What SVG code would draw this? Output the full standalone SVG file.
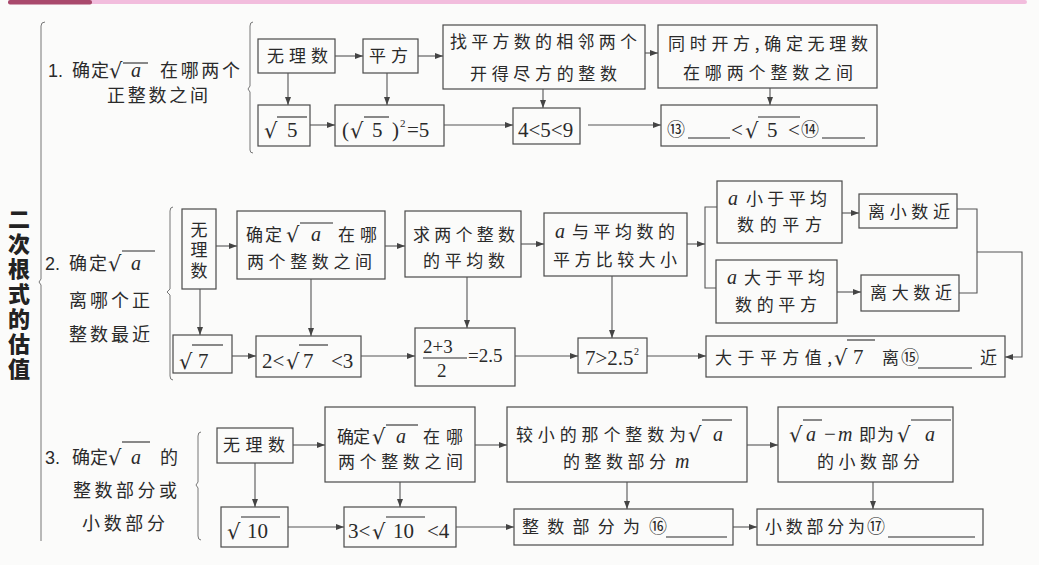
<svg xmlns="http://www.w3.org/2000/svg" width="1039" height="565" viewBox="0 0 1039 565">
<style>
.bg{fill:#fbfbfa}
.b{fill:none;stroke:#4a4a4a;stroke-width:1.2}
.c{fill:none;stroke:#555;stroke-width:1.1}
.a{marker-end:url(#ah)}
.br{fill:none;stroke:#777;stroke-width:1}
.t{font-family:"Noto Sans CJK SC",sans-serif;font-size:17px;fill:#2a2a2a}
.l{font-family:"Noto Sans CJK SC",sans-serif;font-size:18px;fill:#2a2a2a}
.n{font-family:"Liberation Sans",Arial,sans-serif;font-size:18px;fill:#2a2a2a}
.m{font-family:"Liberation Serif","Times New Roman",serif;font-size:21px;fill:#2a2a2a}
.i{font-family:"Liberation Serif","Times New Roman",serif;font-style:italic;font-size:20px;fill:#2a2a2a}
.r{font-family:"DejaVu Serif",serif;font-size:21px;fill:#2a2a2a}
.o{stroke:#2a2a2a;stroke-width:1.1}
.u{stroke:#2a2a2a;stroke-width:1.1}
.ci{font-family:"Noto Sans CJK SC",sans-serif;font-size:18px;fill:#2a2a2a}
.title{font-family:"Noto Sans CJK SC",sans-serif;font-size:22px;font-weight:900;fill:#222;letter-spacing:3px}
</style>
<defs>
<marker id="ah" markerWidth="8" markerHeight="6" refX="8" refY="3" orient="auto" markerUnits="userSpaceOnUse">
<path d="M0,0 L8,3 L0,6 z" fill="#444"/>
</marker>
</defs>
<rect class="bg" x="0" y="0" width="1039" height="565"/>
<g id="topband">
<rect x="90" y="0" width="937" height="4" rx="2" fill="#f2bddd"/>
<rect x="8" y="0" width="84" height="4.5" rx="2" fill="#a9496c"/>
</g>
<g id="title">
<text class="title" x="19" y="208" writing-mode="vertical-rl">二次根式的估值</text>
</g>
<g id="brackets">
<path class="br" d="M45,22 Q41,22 41,26 V279 L39,282 L41,285 V541"/>
<path class="br" d="M253,22 Q250,22 250,26 V86 L248,89 L250,92 V150 Q250,153 253,153"/>
<path class="br" d="M173,207 Q170,207 170,211 V289 L167,292 L170,295 V376 Q170,380 173,380"/>
<path class="br" d="M201,432 Q198,432 198,436 V482 L196,485 L198,488 V536 Q198,540 201,540"/>
</g>

<g id="label1">
<text class="n" x="48" y="77">1.</text>
<text class="l" x="72" y="77" textLength="37" lengthAdjust="spacing">确定</text>
<text class="r" x="109" y="78">√</text>
<line class="o" x1="123" y1="63" x2="148" y2="63"/>
<text class="i" x="131" y="77">a</text>
<text class="l" x="160" y="77" textLength="80" lengthAdjust="spacing">在哪两个</text>
<text class="l" x="107" y="102" textLength="101" lengthAdjust="spacing">正整数之间</text>
</g>
<g id="r1n1"><rect class="b" x="258" y="39" width="77" height="34"/><text class="t" x="267" y="62" textLength="61" lengthAdjust="spacing">无理数</text></g>
<g id="r1n2"><rect class="b" x="363" y="39" width="55" height="34"/><text class="t" x="369" y="62" textLength="39" lengthAdjust="spacing">平方</text></g>
<g id="r1n3"><rect class="b" x="443" y="25" width="202" height="64"/><text class="t" x="450" y="48" textLength="187" lengthAdjust="spacing">找平方数的相邻两个</text><text class="t" x="470" y="80" textLength="147" lengthAdjust="spacing">开得尽方的整数</text></g>
<g id="r1n4"><rect class="b" x="658" y="25" width="219" height="63"/><text class="t" x="668" y="50" textLength="200" lengthAdjust="spacing">同时开方,确定无理数</text><text class="t" x="683" y="79" textLength="170" lengthAdjust="spacing">在哪两个整数之间</text></g>
<g id="r1n5"><rect class="b" x="258" y="105" width="52" height="41"/><text class="r" x="264" y="138">√</text><line class="o" x1="277" y1="117" x2="307" y2="117"/><text class="m" x="287" y="137">5</text></g>
<g id="r1n6"><rect class="b" x="335" y="105" width="109" height="41"/><text class="m" x="342" y="137">(</text><text class="r" x="350" y="138">√</text><line class="o" x1="364" y1="117" x2="389" y2="117"/><text class="m" x="372" y="137">5</text><text class="m" x="392" y="137">)</text><text class="m" x="400" y="127" style="font-size:11px">2</text><text class="m" x="407" y="137">=5</text></g>
<g id="r1n7"><rect class="b" x="513" y="108" width="67" height="36"/><text class="m" x="518" y="137">4&lt;5&lt;9</text></g>
<g id="r1n8"><rect class="b" x="661" y="105" width="216" height="41"/><text class="ci" x="667" y="136">⑬</text><line class="u" x1="688" y1="138" x2="730" y2="138"/><text class="m" x="731" y="137">&lt;</text><text class="r" x="745" y="138">√</text><line class="o" x1="758" y1="117" x2="800" y2="117"/><text class="m" x="767" y="137">5</text><text class="m" x="788" y="137">&lt;</text><text class="ci" x="801" y="136">⑭</text><line class="u" x1="822" y1="138" x2="865" y2="138"/></g>

<g id="label2">
<text class="n" x="45" y="270">2.</text>
<text class="l" x="69" y="270" textLength="38" lengthAdjust="spacing">确定</text>
<text class="r" x="108" y="271">√</text>
<line class="o" x1="122" y1="251" x2="155" y2="251"/>
<text class="i" x="131" y="270">a</text>
<text class="l" x="69" y="307" textLength="81" lengthAdjust="spacing">离哪个正</text>
<text class="l" x="69" y="341" textLength="81" lengthAdjust="spacing">整数最近</text>
</g>
<g id="r2n1"><rect class="b" x="182" y="209" width="34" height="80"/><text class="t" x="199" y="221" writing-mode="vertical-rl" style="letter-spacing:3.5px">无理数</text></g>
<g id="r2n2"><rect class="b" x="237" y="211" width="148" height="68"/><text class="t" x="246" y="241" textLength="36" lengthAdjust="spacing">确定</text><text class="r" x="286" y="242">√</text><line class="o" x1="300" y1="223" x2="333" y2="223"/><text class="i" x="311" y="241">a</text><text class="t" x="338" y="241" textLength="39" lengthAdjust="spacing">在哪</text><text class="t" x="247" y="268" textLength="125" lengthAdjust="spacing">两个整数之间</text></g>
<g id="r2n3"><rect class="b" x="405" y="211" width="116" height="66"/><text class="t" x="413" y="241" textLength="102" lengthAdjust="spacing">求两个整数</text><text class="t" x="423" y="267" textLength="82" lengthAdjust="spacing">的平均数</text></g>
<g id="r2n4"><rect class="b" x="544" y="213" width="143" height="63"/><text class="i" x="555" y="238">a</text><text class="t" x="572" y="238" textLength="103" lengthAdjust="spacing">与平均数的</text><text class="t" x="553" y="266" textLength="124" lengthAdjust="spacing">平方比较大小</text></g>
<g id="r2n5"><rect class="b" x="717" y="181" width="125" height="62"/><text class="i" x="728" y="205">a</text><text class="t" x="746" y="205" textLength="81" lengthAdjust="spacing">小于平均</text><text class="t" x="737" y="231" textLength="85" lengthAdjust="spacing">数的平方</text></g>
<g id="r2n6"><rect class="b" x="859" y="194" width="98" height="34"/><text class="t" x="868" y="218" textLength="82" lengthAdjust="spacing">离小数近</text></g>
<g id="r2n7"><rect class="b" x="716" y="260" width="121" height="63"/><text class="i" x="727" y="284">a</text><text class="t" x="744" y="284" textLength="81" lengthAdjust="spacing">大于平均</text><text class="t" x="735" y="311" textLength="82" lengthAdjust="spacing">数的平方</text></g>
<g id="r2n8"><rect class="b" x="861" y="275" width="98" height="36"/><text class="t" x="870" y="299" textLength="82" lengthAdjust="spacing">离大数近</text></g>
<g id="r2n9"><rect class="b" x="173" y="335" width="59" height="38"/><text class="r" x="179" y="369">√</text><line class="o" x1="192" y1="345" x2="223" y2="345"/><text class="m" x="198" y="368">7</text></g>
<g id="r2n10"><rect class="b" x="256" y="336" width="105" height="41"/><text class="m" x="262" y="368">2&lt;</text><text class="r" x="286" y="369">√</text><line class="o" x1="299" y1="345" x2="328" y2="345"/><text class="m" x="303" y="368">7</text><text class="m" x="331" y="368">&lt;3</text></g>
<g id="r2n11"><rect class="b" x="415" y="328" width="100" height="58"/><text class="m" x="423" y="353" style="font-size:19px">2+3</text><line class="o" x1="423" y1="358" x2="467" y2="358"/><text class="m" x="437" y="377" style="font-size:19px">2</text><text class="m" x="468" y="362" style="font-size:19px">=2.5</text></g>
<g id="r2n12"><rect class="b" x="578" y="338" width="69" height="35"/><text class="m" x="585" y="365">7&gt;2.5</text><text class="m" x="634" y="355" style="font-size:10px">2</text></g>
<g id="r2n13"><rect class="b" x="706" y="336" width="299" height="41"/><text class="t" x="715" y="364" textLength="117" lengthAdjust="spacing">大于平方值,</text><text class="r" x="834" y="365">√</text><line class="o" x1="847" y1="340" x2="875" y2="340"/><text class="m" x="853" y="364">7</text><text class="t" x="882" y="364">离</text><text class="ci" x="901" y="364">⑮</text><line class="u" x1="918" y1="368" x2="972" y2="368"/><text class="t" x="980" y="364">近</text></g>

<g id="label3">
<text class="n" x="45" y="464">3.</text>
<text class="l" x="72" y="464" textLength="36" lengthAdjust="spacing">确定</text>
<text class="r" x="108" y="465">√</text>
<line class="o" x1="122" y1="442" x2="150" y2="442"/>
<text class="i" x="131" y="464">a</text>
<text class="l" x="160" y="464">的</text>
<text class="l" x="73" y="497" textLength="104" lengthAdjust="spacing">整数部分或</text>
<text class="l" x="82" y="530" textLength="83" lengthAdjust="spacing">小数部分</text>
</g>
<g id="r3n1"><rect class="b" x="217" y="428" width="76" height="35"/><text class="t" x="223" y="451" textLength="62" lengthAdjust="spacing">无理数</text></g>
<g id="r3n2"><rect class="b" x="325" y="407" width="150" height="75"/><text class="t" x="337" y="443" textLength="33" lengthAdjust="spacing">确定</text><text class="r" x="372" y="444">√</text><line class="o" x1="386" y1="425" x2="418" y2="425"/><text class="i" x="396" y="443">a</text><text class="t" x="423" y="443" textLength="40" lengthAdjust="spacing">在哪</text><text class="t" x="338" y="468" textLength="125" lengthAdjust="spacing">两个整数之间</text></g>
<g id="r3n3"><rect class="b" x="507" y="407" width="240" height="75"/><text class="t" x="516" y="441" textLength="170" lengthAdjust="spacing">较小的那个整数为</text><text class="r" x="688" y="442">√</text><line class="o" x1="702" y1="420" x2="732" y2="420"/><text class="i" x="713" y="441">a</text><text class="t" x="563" y="468" textLength="103" lengthAdjust="spacing">的整数部分</text><text class="i" x="675" y="468">m</text></g>
<g id="r3n4"><rect class="b" x="778" y="407" width="175" height="75"/><text class="r" x="789" y="442">√</text><line class="o" x1="803" y1="420" x2="822" y2="420"/><text class="i" x="806" y="441">a</text><text class="m" x="824" y="441">−</text><text class="i" x="838" y="441">m</text><text class="t" x="859" y="441" textLength="35" lengthAdjust="spacing">即为</text><text class="r" x="897" y="442">√</text><line class="o" x1="911" y1="420" x2="951" y2="420"/><text class="i" x="925" y="441">a</text><text class="t" x="817" y="468" textLength="103" lengthAdjust="spacing">的小数部分</text></g>
<g id="r3n5"><rect class="b" x="221" y="507" width="67" height="40"/><text class="r" x="227" y="539">√</text><line class="o" x1="241" y1="517" x2="280" y2="517"/><text class="m" x="247" y="538">10</text></g>
<g id="r3n6"><rect class="b" x="344" y="507" width="112" height="40"/><text class="m" x="348" y="538">3&lt;</text><text class="r" x="372" y="539">√</text><line class="o" x1="386" y1="517" x2="425" y2="517"/><text class="m" x="393" y="538">10</text><text class="m" x="427" y="538">&lt;4</text></g>
<g id="r3n7"><rect class="b" x="514" y="509" width="219" height="36"/><text class="t" x="522" y="533" textLength="118" lengthAdjust="spacing">整数部分为</text><text class="ci" x="649" y="533">⑯</text><line class="u" x1="666" y1="537" x2="727" y2="537"/></g>
<g id="r3n8"><rect class="b" x="757" y="509" width="226" height="36"/><text class="t" x="765" y="533" textLength="100" lengthAdjust="spacing">小数部分为</text><text class="ci" x="867" y="533">⑰</text><line class="u" x1="888" y1="537" x2="975" y2="537"/></g>

<g id="connectors">
<path class="c a" d="M335,56 H363"/>
<path class="c a" d="M418,56 H443"/>
<path class="c a" d="M645,53 H658"/>
<path class="c a" d="M288,73 V105"/>
<path class="c a" d="M387,73 V105"/>
<path class="c a" d="M543,89 V108"/>
<path class="c a" d="M770,88 V105"/>
<path class="c a" d="M310,125 H335"/>
<path class="c a" d="M444,125 H513"/>
<path class="c a" d="M588,125 H661"/>
<path class="c a" d="M216,246 H237"/>
<path class="c a" d="M385,246 H405"/>
<path class="c a" d="M521,244 H544"/>
<path class="c a" d="M687,244 H705"/>
<path class="c" d="M717,207 H705 V288 H716"/>
<path class="c a" d="M842,213 H859"/>
<path class="c a" d="M837,292 H861"/>
<path class="c" d="M957,209 H977 V293 H959"/>
<path class="c a" d="M977,252 H1022 V357 H1005"/>
<path class="c a" d="M200,289 V335"/>
<path class="c a" d="M311,279 V336"/>
<path class="c a" d="M467,277 V328"/>
<path class="c a" d="M612,276 V338"/>
<path class="c a" d="M232,356 H256"/>
<path class="c a" d="M361,356 H415"/>
<path class="c a" d="M515,356 H578"/>
<path class="c a" d="M647,356 H706"/>
<path class="c a" d="M293,445 H325"/>
<path class="c a" d="M475,445 H507"/>
<path class="c a" d="M747,445 H778"/>
<path class="c a" d="M255,463 V507"/>
<path class="c a" d="M400,482 V507"/>
<path class="c a" d="M627,482 V509"/>
<path class="c a" d="M873,482 V509"/>
<path class="c a" d="M288,527 H344"/>
<path class="c a" d="M456,527 H514"/>
<path class="c a" d="M733,527 H757"/>
</g>
</svg>
